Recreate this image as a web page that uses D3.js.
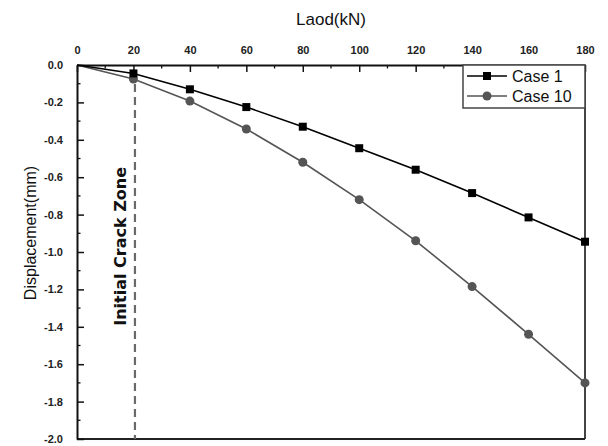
<!DOCTYPE html>
<html>
<head>
<meta charset="utf-8">
<script src="https://cdn.jsdelivr.net/npm/d3@7"></script>
<style>
  body { margin: 0; background: #fff; }
  svg { font-family: "Liberation Sans", Arial, sans-serif; }
  .tickText { font-size: 11px; font-weight: bold; fill: #222; }
</style>
</head>
<body>
<div id="chart"></div>
<script>
// data
var loads = [0, 20, 40, 60, 80, 100, 120, 140, 160, 180];
var case1 = [0, -0.045, -0.13, -0.225, -0.33, -0.445, -0.56, -0.685, -0.815, -0.945];
var case10 = [0, -0.075, -0.193, -0.342, -0.52, -0.72, -0.94, -1.185, -1.44, -1.70];
var seriesNames = ["Case 1", "Case 10"];
var xTicks = [0, 20, 40, 60, 80, 100, 120, 140, 160, 180];
var yTicks = [0, -0.2, -0.4, -0.6, -0.8, -1.0, -1.2, -1.4, -1.6, -1.8, -2.0];
var crackLoad = 20;

var svgWidth = 608, svgHeight = 446;
var margin = {top: 65, right: 23, bottom: 7, left: 77};
var width = svgWidth - margin.left - margin.right;
var height = svgHeight - margin.top - margin.bottom;

var svg = d3.select("#chart")
  .append("svg")
  .attr("width", svgWidth)
  .attr("height", svgHeight);

var chartGroup = svg.append("g")
  .attr("transform", `translate(${margin.left}, ${margin.top})`);

var x = d3.scaleLinear().domain([0, 180]).range([0, width]);
var y = d3.scaleLinear().domain([0, -2]).range([0, height]);

// frame: right and bottom
chartGroup.append("line")
  .attr("x1", width).attr("x2", width).attr("y1", 0).attr("y2", height)
  .attr("stroke", "#444").attr("stroke-width", 2);
chartGroup.append("line")
  .attr("x1", 0).attr("x2", width).attr("y1", height).attr("y2", height)
  .attr("stroke", "#222").attr("stroke-width", 2);

// minor ticks
var minorX = d3.range(10, 180, 20);
chartGroup.selectAll(".minorX")
  .data(minorX).enter().append("line")
  .attr("x1", d => x(d)).attr("x2", d => x(d))
  .attr("y1", 0).attr("y2", 3.5)
  .attr("stroke", "#111").attr("stroke-width", 1.3);
var minorY = d3.range(-0.1, -2, -0.2);
chartGroup.selectAll(".minorY")
  .data(minorY).enter().append("line")
  .attr("y1", d => y(d)).attr("y2", d => y(d))
  .attr("x1", 0).attr("x2", 3.5)
  .attr("stroke", "#111").attr("stroke-width", 1.3);

// top axis
var xAxis = d3.axisTop(x).tickValues(xTicks).tickSizeInner(-7).tickSizeOuter(0).tickPadding(11)
  .tickFormat(d3.format("d"));
var gx = chartGroup.append("g").call(xAxis);
gx.select(".domain").attr("stroke", "#111").attr("stroke-width", 2);
gx.selectAll(".tick line").attr("stroke", "#111").attr("stroke-width", 1.5);
gx.selectAll(".tick text").attr("class", "tickText").attr("font-family", null).attr("font-size", null);

// left axis
var yAxis = d3.axisLeft(y).tickValues(yTicks).tickSizeInner(-7).tickSizeOuter(0).tickPadding(14)
  .tickFormat(d3.format(".1f"));
var gy = chartGroup.append("g").call(yAxis);
gy.select(".domain").attr("stroke", "#111").attr("stroke-width", 2);
gy.selectAll(".tick line").attr("stroke", "#111").attr("stroke-width", 1.5);
gy.selectAll(".tick text").attr("class", "tickText").attr("font-family", null).attr("font-size", null)
  .text(d => d === 0 ? "0.0" : d3.format(".1f")(d).replace("−", "-"));

// axis titles
svg.append("text")
  .attr("x", margin.left + width / 2)
  .attr("y", 25)
  .attr("text-anchor", "middle")
  .style("font-size", "17px")
  .attr("fill", "#111")
  .text("Laod(kN)");

svg.append("text")
  .attr("transform", `translate(36, 233) rotate(-90)`)
  .attr("text-anchor", "middle")
  .style("font-size", "16px")
  .attr("fill", "#111")
  .text("Displacement(mm)");

// crack zone marker
chartGroup.append("line")
  .attr("x1", x(crackLoad) + 1.5).attr("x2", x(crackLoad) + 1.5)
  .attr("y1", 6).attr("y2", height)
  .attr("stroke", "#6a6a6a").attr("stroke-width", 2.2)
  .attr("stroke-dasharray", "8,5");

chartGroup.append("text")
  .attr("transform", `translate(${x(crackLoad) - 7}, ${y(-0.97)}) rotate(-90)`)
  .attr("text-anchor", "middle")
  .style("font-size", "16px")
  .style("font-weight", "bold")
  .style("font-family", "'DejaVu Sans', sans-serif")
  .attr("fill", "#111")
  .text("Initial Crack Zone");

// series
var line = d3.line().x(d => x(d[0])).y(d => y(d[1]));
var pts1 = loads.map((l, i) => [l, case1[i]]);
var pts10 = loads.map((l, i) => [l, case10[i]]);

chartGroup.append("path").datum(pts10)
  .attr("d", line).attr("fill", "none").attr("stroke", "#555").attr("stroke-width", 1.6);
chartGroup.selectAll(".c10").data(pts10.filter(d => d[0] > 0)).enter()
  .append("circle")
  .attr("cx", d => x(d[0])).attr("cy", d => y(d[1])).attr("r", 4.5)
  .attr("fill", "#555");

chartGroup.append("path").datum(pts1)
  .attr("d", line).attr("fill", "none").attr("stroke", "#000").attr("stroke-width", 1.6);
chartGroup.selectAll(".c1").data(pts1.filter(d => d[0] > 0)).enter()
  .append("rect")
  .attr("x", d => x(d[0]) - 4).attr("y", d => y(d[1]) - 4)
  .attr("width", 8).attr("height", 8)
  .attr("fill", "#000");

// legend
var legend = chartGroup.append("g").attr("transform", `translate(${width - 122}, 0)`);
legend.append("rect")
  .attr("x", 0).attr("y", 0).attr("width", 122).attr("height", 43)
  .attr("fill", "#fff").attr("stroke", "#444").attr("stroke-width", 1.5);
var legendColors = ["#000", "#555"];
seriesNames.forEach(function(name, i) {
  var ly = 11 + i * 20;
  legend.append("line")
    .attr("x1", 4).attr("x2", 44).attr("y1", ly).attr("y2", ly)
    .attr("stroke", legendColors[i]).attr("stroke-width", 1.6);
  if (i === 0) {
    legend.append("rect").attr("x", 20).attr("y", ly - 4).attr("width", 8).attr("height", 8).attr("fill", "#000");
  } else {
    legend.append("circle").attr("cx", 24).attr("cy", ly).attr("r", 4.5).attr("fill", "#555");
  }
  legend.append("text")
    .attr("x", 49).attr("y", ly + 5.5)
    .style("font-size", "16px")
    .attr("fill", "#111")
    .text(name);
});
</script>
</body>
</html>
